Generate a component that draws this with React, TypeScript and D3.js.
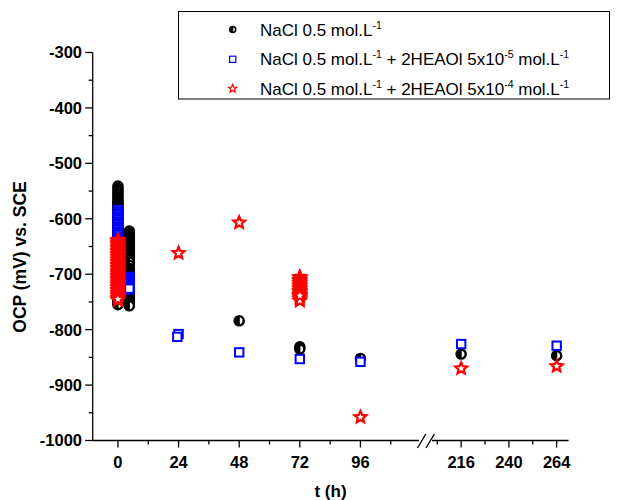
import React from 'react';
import * as d3 from 'd3';

// chart data (OCP in mV vs SCE, t in hours)
const naclTimes = [48, 72, 72, 96, 216, 264];
const naclValues = [-784, -831, -835, -852, -844, -847];
const low5Times = [24, 23.5, 48, 72, 96, 216, 264];
const low5Values = [-808, -813, -841, -853, -858, -826, -829];
const high4Times = [24, 48, 96, 216, 264];
const high4Values = [-662, -607, -958, -870, -866];

// dense runs recorded in the first hours, each plotted at one time
const naclRun0 = [-541, -545, -549, -553, -557, -561, -565, -568, -571, -574, -577, -580, -583, -586, -589, -592, -595, -598, -601, -604, -607, -610, -613, -616, -619, -622, -625, -628, -631, -634, -637, -640, -643, -646, -649, -652, -655, -658, -661, -664, -667, -670, -673, -676, -679, -682, -685, -688, -691, -694, -697, -700, -703, -706, -709, -712, -715, -718, -721, -724, -727, -730, -733, -736, -739, -742, -745, -748, -751, -753, -755];
const naclRun1 = [-622, -626, -630, -633, -636, -639, -642, -645, -648, -651, -654, -657, -660, -663, -666, -669, -672, -675, -678, -684, -690, -693, -696, -699, -702, -705, -708, -711, -714, -717, -720, -723, -726, -729, -732, -735, -738, -741, -744, -747, -750, -753, -755, -757];
const low5Run0 = [-584, -587, -590, -593, -596, -599, -602, -605, -608, -611, -614, -617, -620, -623, -626, -629, -632, -635, -638, -641, -644, -647, -650, -653, -656, -659, -662, -665, -668, -671, -674, -677, -680, -683, -686, -689, -692];
const low5Run1 = [-705, -707, -709, -711, -713, -715, -717, -719, -721, -723, -725, -728, -726];
const high4Run0 = [-638, -640, -643, -645, -648, -650, -653, -655, -658, -660, -663, -665, -668, -670, -673, -675, -678, -680, -683, -685, -688, -690, -693, -695, -698, -700, -703, -705, -708, -710, -713, -715, -718, -720, -723, -725, -728, -730, -733, -735, -738, -740, -743, -747, -745];
const high4Run72 = [-705, -707, -710, -712, -715, -717, -720, -722, -725, -727, -730, -732, -735, -737, -740, -742, -745, -748, -739];

const runTimes = { nacl0: 0, nacl1: 4.5, low0: 0, low1: 4.5, high0: 0, high72: 72 };

const yTicks = [-300, -400, -500, -600, -700, -800, -900, -1000];
const yMinor = [-350, -450, -550, -650, -750, -850, -950];
const xTicksLeft = [0, 24, 48, 72, 96];
const xMinorLeft = [12, 36, 60, 84, 108];
const xTicksRight = [216, 240, 264];
const xMinorRight = [204, 228, 252];

const legendLabels = [
  { main: ['NaCl 0.5 mol.L'], sups: ['-1'] },
  { main: ['NaCl 0.5 mol.L', ' + 2HEAOl 5x10', ' mol.L'], sups: ['-1', '-5', '-1'] },
  { main: ['NaCl 0.5 mol.L', ' + 2HEAOl 5x10', ' mol.L'], sups: ['-1', '-4', '-1'] },
];

const W = 617;
const H = 500;
const FONT = '"Liberation Sans", Arial, sans-serif';

const y = d3.scaleLinear().domain([-1000, -300]).range([440.5, 52.5]);
const xLeft = d3.scaleLinear().domain([-10, 118]).range([92.7, 416]);
const xRight = d3.scaleLinear().domain([202, 270]).range([433.3, 568.6]);
const x = (t: number) => (t < 150 ? xLeft(t) : xRight(t));

function starPath(R: number, r: number) {
  const pts: string[] = [];
  for (let i = 0; i < 10; i++) {
    const a = -Math.PI / 2 + (i * Math.PI) / 5;
    const rad = i % 2 === 0 ? R : r;
    pts.push(`${(Math.cos(a) * rad).toFixed(2)},${(Math.sin(a) * rad).toFixed(2)}`);
  }
  return 'M' + pts.join('L') + 'Z';
}

const HalfCircle = ({ cx, cy, r = 4.6, sw = 2.4 }: any) => (
  <g transform={`translate(${cx},${cy})`}>
    <circle r={r} fill="#fff" stroke="#000" strokeWidth={sw} />
    <path d={`M0.6,${-r}A${r},${r} 0 0 0 0.6,${r}Z`} fill="#000" />
  </g>
);

const Square = ({ cx, cy, s = 8.4, sw = 2 }: any) => (
  <rect x={cx - s / 2} y={cy - s / 2} width={s} height={s} fill="#fff" stroke="#0000ff" strokeWidth={sw} />
);

const Star = ({ cx, cy, R = 6.2, r = 2.8, sw = 2.2 }: any) => (
  <path transform={`translate(${cx},${cy})`} d={starPath(R, r)} fill="#fff" stroke="#ff0000" strokeWidth={sw} strokeLinejoin="miter" />
);

export default function App() {
  React.useEffect(() => {
    document.body.style.margin = '0';
  }, []);

  const axisY = 440.5;
  const axisX = 92.7;

  return (
    <svg width={W} height={H} style={{ display: 'block' }} fontFamily={FONT}>
      <rect width={W} height={H} fill="#fff" />

      {/* NaCl series */}
      <g>
        {naclRun0.map((v, i) => <HalfCircle key={'a' + i} cx={x(runTimes.nacl0)} cy={y(v)} />)}
        {naclRun1.map((v, i) => <HalfCircle key={'b' + i} cx={x(runTimes.nacl1)} cy={y(v)} />)}
        {naclValues.map((v, i) => <HalfCircle key={'c' + i} cx={x(naclTimes[i])} cy={y(v)} />)}
      </g>
      {/* + 5x10-5 */}
      <g>
        {low5Run0.map((v, i) => <Square key={'a' + i} cx={x(runTimes.low0)} cy={y(v)} />)}
        {low5Run1.map((v, i) => <Square key={'b' + i} cx={x(runTimes.low1)} cy={y(v)} />)}
        {low5Values.map((v, i) => <Square key={'c' + i} cx={x(low5Times[i])} cy={y(v)} />)}
      </g>
      {/* + 5x10-4 */}
      <g>
        {high4Run0.map((v, i) => <Star key={'a' + i} cx={x(runTimes.high0)} cy={y(v)} />)}
        {high4Run72.map((v, i) => <Star key={'b' + i} cx={x(runTimes.high72)} cy={y(v)} />)}
        {high4Values.map((v, i) => <Star key={'c' + i} cx={x(high4Times[i])} cy={y(v)} />)}
      </g>

      {/* y axis */}
      <g stroke="#000" strokeWidth={1.3}>
        <line x1={axisX} x2={axisX} y1={y(-300)} y2={axisY} />
        {yTicks.map((t) => <line key={t} x1={axisX - 7.5} x2={axisX} y1={y(t)} y2={y(t)} />)}
        {yMinor.map((t) => <line key={t} x1={axisX - 4} x2={axisX} y1={y(t)} y2={y(t)} />)}
      </g>
      <g fontSize={16.5} fontWeight="bold" textAnchor="end">
        {yTicks.map((t) => (
          <text key={t} x={82} y={y(t)} dy="0.36em">{t}</text>
        ))}
      </g>
      <text transform="translate(20,257) rotate(-90)" textAnchor="middle" dy="0.36em" fontSize={17.5} fontWeight="bold">
        OCP (mV) vs. SCE
      </text>

      {/* x axis with break */}
      <g stroke="#000" strokeWidth={1.3}>
        <line x1={axisX} x2={419} y1={axisY} y2={axisY} />
        <line x1={432} x2={xRight(270)} y1={axisY} y2={axisY} />
        <line x1={417.5} y1={448} x2={425.8} y2={434.2} />
        <line x1={426} y1={448} x2={434.3} y2={434.2} />
        {xTicksLeft.map((t) => <line key={t} x1={xLeft(t)} x2={xLeft(t)} y1={axisY} y2={axisY + 7} />)}
        {xMinorLeft.map((t) => <line key={t} x1={xLeft(t)} x2={xLeft(t)} y1={axisY} y2={axisY + 4} />)}
        {xTicksRight.map((t) => <line key={t} x1={xRight(t)} x2={xRight(t)} y1={axisY} y2={axisY + 7} />)}
        {xMinorRight.map((t) => <line key={t} x1={xRight(t)} x2={xRight(t)} y1={axisY} y2={axisY + 4} />)}
      </g>
      <g fontSize={16.5} fontWeight="bold" textAnchor="middle">
        {xTicksLeft.map((t) => <text key={t} x={xLeft(t)} y={467.5}>{t}</text>)}
        {xTicksRight.map((t) => <text key={t} x={xRight(t)} y={467.5}>{t}</text>)}
      </g>
      <text x={330.5} y={497} textAnchor="middle" fontSize={17} fontWeight="bold">t (h)</text>

      {/* legend */}
      <rect x={178.5} y={11.5} width={431} height={87.5} fill="#fff" stroke="#000" strokeWidth={1} />
      <HalfCircle cx={232.7} cy={29.5} r={3} sw={1.5} />
      <Square cx={232.7} cy={59.3} s={6.2} sw={1.2} />
      <Star cx={232.7} cy={88.6} R={4.3} r={1.9} sw={1.2} />
      {legendLabels.map((lab, i) => (
        <text key={i} x={260} y={[35.5, 65.3, 94.6][i]} fontSize={17}>
          {lab.main.map((m, j) => (
            <React.Fragment key={j}>
              <tspan dy={j > 0 ? 7 : 0}>{m}</tspan>
              <tspan fontSize={10.5} dy={-7}>{lab.sups[j]}</tspan>
            </React.Fragment>
          ))}
        </text>
      ))}
    </svg>
  );
}
